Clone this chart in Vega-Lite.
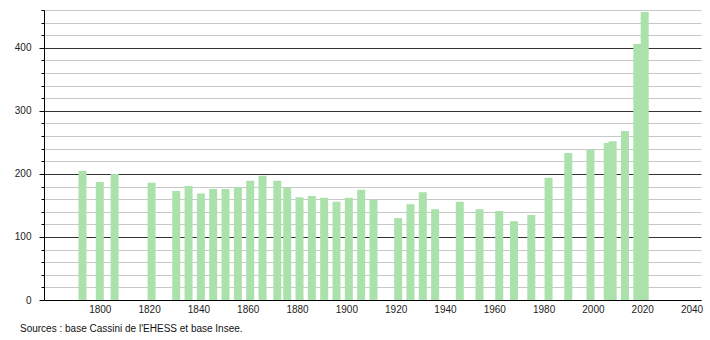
{
  "$schema": "https://vega.github.io/schema/vega-lite/v6.json",
  "width": 657,
  "height": 290,
  "autosize": "none",
  "padding": {"left": 44, "top": 10, "right": 9, "bottom": 40},
  "background": "white",
  "config": {"view": {"stroke": null}, "font": "Liberation Sans"},
  "title": {
    "text": "Sources : base Cassini de l'EHESS et base Insee.",
    "orient": "bottom",
    "anchor": "start",
    "frame": "group",
    "dx": -24,
    "offset": 10,
    "fontSize": 10,
    "fontWeight": "normal",
    "color": "#111",
    "font": "Liberation Sans"
  },
  "data": {
    "values": [
      {"year": 1793, "pop": 205},
      {"year": 1800, "pop": 187},
      {"year": 1806, "pop": 200},
      {"year": 1821, "pop": 186},
      {"year": 1831, "pop": 173},
      {"year": 1836, "pop": 181},
      {"year": 1841, "pop": 169},
      {"year": 1846, "pop": 176},
      {"year": 1851, "pop": 176},
      {"year": 1856, "pop": 179},
      {"year": 1861, "pop": 189},
      {"year": 1866, "pop": 197},
      {"year": 1872, "pop": 189},
      {"year": 1876, "pop": 179},
      {"year": 1881, "pop": 163},
      {"year": 1886, "pop": 165},
      {"year": 1891, "pop": 162},
      {"year": 1896, "pop": 156},
      {"year": 1901, "pop": 162},
      {"year": 1906, "pop": 175},
      {"year": 1911, "pop": 159},
      {"year": 1921, "pop": 130},
      {"year": 1926, "pop": 152},
      {"year": 1931, "pop": 171},
      {"year": 1936, "pop": 144},
      {"year": 1946, "pop": 156},
      {"year": 1954, "pop": 144},
      {"year": 1962, "pop": 141},
      {"year": 1968, "pop": 125},
      {"year": 1975, "pop": 135},
      {"year": 1982, "pop": 194},
      {"year": 1990, "pop": 233},
      {"year": 1999, "pop": 238},
      {"year": 2006, "pop": 249},
      {"year": 2008, "pop": 252},
      {"year": 2013, "pop": 268},
      {"year": 2018, "pop": 406},
      {"year": 2021, "pop": 457}
    ]
  },
  "mark": {"type": "bar", "width": 8, "color": "#abe2ab"},
  "encoding": {
    "x": {
      "field": "year",
      "type": "quantitative",
      "scale": {"domain": [1779.4, 2041.8], "nice": false, "zero": false},
      "axis": {
        "title": null,
        "values": [1800, 1820, 1840, 1860, 1880, 1900, 1920, 1940, 1960, 1980, 2000, 2020, 2040],
        "format": "d",
        "grid": false,
        "ticks": false,
        "domainColor": "#000",
        "domainWidth": 1,
        "labelFontSize": 10,
        "labelColor": "#222",
        "labelPadding": 4,
        "labelFont": "Liberation Sans"
      }
    },
    "y": {
      "field": "pop",
      "type": "quantitative",
      "scale": {"domain": [0, 460], "nice": false},
      "axis": {
        "title": null,
        "values": [0, 20, 40, 60, 80, 100, 120, 140, 160, 180, 200, 220, 240, 260, 280, 300, 320, 340, 360, 380, 400, 420, 440, 460],
        "labelExpr": "datum.value % 100 === 0 ? datum.label : ''",
        "grid": true,
        "gridColor": {"condition": {"test": "datum.value % 100 === 0", "value": "#333333"}, "value": "#c8c8c8"},
        "gridWidth": 1,
        "tickColor": "#000",
        "tickSize": {"condition": {"test": "datum.value % 100 === 0", "value": 5}, "value": 3},
        "domainColor": "#000",
        "labelFontSize": 10,
        "labelColor": "#222",
        "labelPadding": 8,
        "labelFont": "Liberation Sans"
      }
    }
  }
}
